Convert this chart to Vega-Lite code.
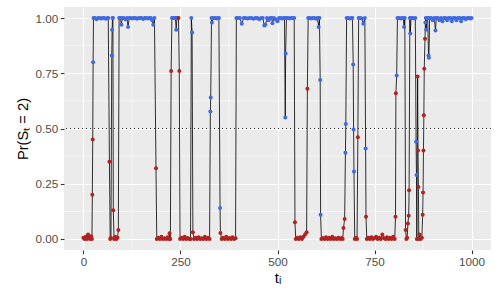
{
  "$schema": "https://vega.github.io/schema/vega-lite/v6.json",
  "width": 427,
  "height": 243,
  "autosize": "none",
  "padding": {"left": 64, "top": 7, "right": 7, "bottom": 49},
  "background": "white",
  "config": {
    "view": {"stroke": null, "fill": "#EBEBEB"},
    "axis": {
      "domain": false,
      "gridColor": "white",
      "gridWidth": 1.1,
      "tickColor": "#333333",
      "tickSize": 3.7,
      "tickWidth": 1.1,
      "labelColor": "#4D4D4D",
      "labelFont": "Liberation Sans",
      "labelFontSize": 11.7,
      "labelPadding": 2.5,
      "titleFont": "Liberation Sans",
      "titleFontSize": 14.7,
      "titleFontWeight": "normal",
      "titleColor": "black"
    }
  },
  "datasets": {
    "gx": [{"v": 125}, {"v": 375}, {"v": 625}, {"v": 875}],
    "gy": [{"v": 0.125}, {"v": 0.375}, {"v": 0.625}, {"v": 0.875}],
    "h": [{"v": 0.5}]
  },
  "data": {"values": [
    {"t":0,"p":0.005,"s":"1"},{"t":3,"p":0,"s":"1"},{"t":6,"p":0.01,"s":"1"},{"t":9,"p":0,"s":"1"},{"t":12,"p":0.02,"s":"1"},{"t":14,"p":0.008,"s":"1"},{"t":17,"p":0,"s":"1"},{"t":20,"p":0.012,"s":"1"},{"t":22,"p":0,"s":"1"},
    {"t":23,"p":0.2,"s":"1"},{"t":24,"p":0.45,"s":"1"},{"t":25,"p":0.8,"s":"2"},{"t":26,"p":1,"s":"2"},
    {"t":30,"p":1,"s":"2"},{"t":34,"p":0.995,"s":"2"},{"t":38,"p":1,"s":"2"},{"t":42,"p":1,"s":"2"},{"t":46,"p":0.998,"s":"2"},{"t":50,"p":1,"s":"2"},{"t":54,"p":1,"s":"2"},{"t":58,"p":0.997,"s":"2"},{"t":62,"p":1,"s":"2"},{"t":64,"p":1,"s":"2"},
    {"t":67,"p":0.35,"s":"1"},{"t":69,"p":0,"s":"1"},{"t":71,"p":0.005,"s":"1"},{"t":73,"p":0.83,"s":"2"},{"t":74,"p":0.947,"s":"2"},{"t":75,"p":1,"s":"2"},{"t":76,"p":1,"s":"2"},{"t":77,"p":0.13,"s":"1"},{"t":79,"p":0,"s":"1"},{"t":82,"p":0.01,"s":"1"},{"t":85,"p":0,"s":"1"},{"t":88,"p":0.005,"s":"1"},{"t":90,"p":0.04,"s":"1"},
    {"t":92,"p":1,"s":"2"},{"t":95,"p":1,"s":"2"},{"t":98,"p":0.97,"s":"2"},{"t":100,"p":1,"s":"2"},{"t":104,"p":1,"s":"2"},{"t":108,"p":0.995,"s":"2"},{"t":112,"p":1,"s":"2"},{"t":115,"p":0.96,"s":"2"},{"t":118,"p":1,"s":"2"},{"t":122,"p":1,"s":"2"},{"t":126,"p":0.998,"s":"2"},{"t":130,"p":1,"s":"2"},{"t":134,"p":1,"s":"2"},{"t":138,"p":0.997,"s":"2"},{"t":142,"p":1,"s":"2"},{"t":146,"p":1,"s":"2"},{"t":150,"p":1,"s":"2"},{"t":154,"p":0.996,"s":"2"},{"t":158,"p":1,"s":"2"},{"t":162,"p":1,"s":"2"},{"t":166,"p":0.998,"s":"2"},{"t":170,"p":1,"s":"2"},{"t":174,"p":1,"s":"2"},{"t":177,"p":0.99,"s":"2"},{"t":180,"p":0.97,"s":"2"},{"t":183,"p":1,"s":"2"},
    {"t":187,"p":0.32,"s":"1"},{"t":189,"p":0,"s":"1"},{"t":193,"p":0.005,"s":"1"},{"t":197,"p":0,"s":"1"},{"t":201,"p":0.01,"s":"1"},{"t":205,"p":0,"s":"1"},{"t":209,"p":0.003,"s":"1"},{"t":213,"p":0,"s":"1"},{"t":217,"p":0.008,"s":"1"},{"t":220,"p":0,"s":"1"},{"t":222,"p":0.026,"s":"1"},{"t":224,"p":0,"s":"1"},
    {"t":226,"p":0.76,"s":"1"},{"t":228,"p":1,"s":"2"},{"t":231,"p":1,"s":"2"},{"t":234,"p":1,"s":"2"},{"t":237,"p":1,"s":"2"},{"t":239,"p":0.947,"s":"2"},{"t":241,"p":1,"s":"2"},{"t":243,"p":1,"s":"2"},
    {"t":245,"p":1,"s":"1"},{"t":247,"p":0.76,"s":"1"},{"t":249,"p":0,"s":"1"},{"t":253,"p":0.006,"s":"1"},{"t":257,"p":0,"s":"1"},{"t":261,"p":0.01,"s":"1"},{"t":265,"p":0,"s":"1"},{"t":269,"p":0.004,"s":"1"},{"t":273,"p":0,"s":"1"},{"t":276,"p":0,"s":"1"},
    {"t":278,"p":1,"s":"2"},{"t":280,"p":0.935,"s":"2"},{"t":282,"p":0.03,"s":"1"},{"t":285,"p":0,"s":"1"},{"t":289,"p":0.005,"s":"1"},{"t":293,"p":0,"s":"1"},{"t":297,"p":0.008,"s":"1"},{"t":301,"p":0,"s":"1"},{"t":305,"p":0.003,"s":"1"},{"t":309,"p":0,"s":"1"},{"t":313,"p":0.01,"s":"1"},{"t":317,"p":0,"s":"1"},{"t":321,"p":0.006,"s":"1"},{"t":325,"p":0,"s":"1"},
    {"t":327,"p":0.577,"s":"2"},{"t":328,"p":0.64,"s":"2"},{"t":330,"p":1,"s":"2"},{"t":331,"p":0.98,"s":"2"},{"t":335,"p":1,"s":"2"},{"t":339,"p":1,"s":"2"},{"t":343,"p":0.998,"s":"2"},{"t":347,"p":1,"s":"2"},{"t":349,"p":1,"s":"2"},
    {"t":352,"p":0.14,"s":"2"},{"t":353,"p":0.027,"s":"1"},{"t":356,"p":0,"s":"1"},{"t":360,"p":0.005,"s":"1"},{"t":364,"p":0,"s":"1"},{"t":368,"p":0.01,"s":"1"},{"t":372,"p":0,"s":"1"},{"t":376,"p":0.004,"s":"1"},{"t":380,"p":0,"s":"1"},{"t":384,"p":0.008,"s":"1"},{"t":388,"p":0,"s":"1"},{"t":392,"p":0.003,"s":"1"},
    {"t":394,"p":1,"s":"2"},{"t":398,"p":1,"s":"2"},{"t":403,"p":1,"s":"2"},{"t":408,"p":0.974,"s":"2"},{"t":413,"p":1,"s":"2"},{"t":418,"p":1,"s":"2"},{"t":423,"p":0.998,"s":"2"},{"t":428,"p":1,"s":"2"},{"t":433,"p":1,"s":"2"},{"t":438,"p":0.997,"s":"2"},{"t":443,"p":1,"s":"2"},{"t":448,"p":1,"s":"2"},{"t":453,"p":0.995,"s":"2"},{"t":458,"p":1,"s":"2"},{"t":462,"p":1,"s":"2"},{"t":466,"p":0.966,"s":"2"},{"t":469,"p":0.97,"s":"2"},{"t":473,"p":1,"s":"2"},{"t":477,"p":0.99,"s":"2"},{"t":481,"p":1,"s":"2"},{"t":485,"p":1,"s":"2"},{"t":487,"p":0.977,"s":"2"},{"t":491,"p":1,"s":"2"},{"t":495,"p":0.995,"s":"2"},{"t":500,"p":0.985,"s":"2"},{"t":504,"p":1,"s":"2"},{"t":508,"p":1,"s":"2"},{"t":512,"p":0.998,"s":"2"},{"t":516,"p":1,"s":"2"},{"t":518,"p":1,"s":"2"},
    {"t":520,"p":0.55,"s":"2"},{"t":521,"p":0.84,"s":"2"},{"t":523,"p":1,"s":"2"},{"t":527,"p":1,"s":"2"},{"t":531,"p":0.998,"s":"2"},{"t":535,"p":1,"s":"2"},{"t":539,"p":1,"s":"2"},{"t":543,"p":1,"s":"2"},
    {"t":545,"p":0.076,"s":"1"},{"t":547,"p":0,"s":"1"},{"t":551,"p":0.005,"s":"1"},{"t":555,"p":0,"s":"1"},{"t":559,"p":0.008,"s":"1"},{"t":563,"p":0,"s":"1"},{"t":567,"p":0.01,"s":"1"},{"t":571,"p":0.02,"s":"1"},{"t":575,"p":0.03,"s":"1"},
    {"t":577,"p":0.68,"s":"1"},{"t":579,"p":1,"s":"2"},{"t":583,"p":1,"s":"2"},{"t":587,"p":0.998,"s":"2"},{"t":591,"p":1,"s":"2"},{"t":595,"p":1,"s":"2"},{"t":599,"p":0.997,"s":"2"},{"t":603,"p":1,"s":"2"},{"t":606,"p":0.96,"s":"2"},{"t":608,"p":1,"s":"2"},
    {"t":610,"p":0.72,"s":"2"},{"t":611,"p":0.11,"s":"2"},{"t":613,"p":0,"s":"1"},{"t":617,"p":0.004,"s":"1"},{"t":621,"p":0,"s":"1"},{"t":625,"p":0.008,"s":"1"},{"t":629,"p":0,"s":"1"},{"t":633,"p":0.005,"s":"1"},{"t":637,"p":0,"s":"1"},{"t":641,"p":0.01,"s":"1"},{"t":645,"p":0,"s":"1"},{"t":649,"p":0.003,"s":"1"},{"t":653,"p":0,"s":"1"},{"t":657,"p":0.006,"s":"1"},{"t":661,"p":0,"s":"1"},{"t":665,"p":0.004,"s":"1"},{"t":668,"p":0,"s":"1"},{"t":670,"p":0.05,"s":"1"},{"t":673,"p":0.09,"s":"1"},
    {"t":675,"p":0.39,"s":"2"},{"t":676,"p":0.52,"s":"2"},{"t":678,"p":1,"s":"2"},{"t":682,"p":1,"s":"2"},{"t":686,"p":0.998,"s":"2"},{"t":690,"p":1,"s":"2"},{"t":693,"p":1,"s":"2"},
    {"t":695,"p":0.79,"s":"2"},{"t":696,"p":0.495,"s":"2"},{"t":697,"p":0.305,"s":"2"},{"t":699,"p":0,"s":"1"},{"t":702,"p":0.005,"s":"1"},{"t":705,"p":0,"s":"1"},
    {"t":707,"p":0.46,"s":"1"},{"t":709,"p":1,"s":"2"},{"t":713,"p":1,"s":"2"},{"t":717,"p":0.998,"s":"2"},{"t":721,"p":0.974,"s":"2"},{"t":725,"p":1,"s":"2"},
    {"t":727,"p":0.41,"s":"2"},{"t":728,"p":0.1,"s":"1"},{"t":730,"p":0,"s":"1"},{"t":734,"p":0.005,"s":"1"},{"t":738,"p":0,"s":"1"},{"t":742,"p":0.008,"s":"1"},{"t":746,"p":0,"s":"1"},{"t":750,"p":0.004,"s":"1"},{"t":754,"p":0.01,"s":"1"},{"t":758,"p":0,"s":"1"},{"t":762,"p":0.006,"s":"1"},{"t":766,"p":0,"s":"1"},{"t":770,"p":0.02,"s":"1"},{"t":774,"p":0.004,"s":"1"},{"t":778,"p":0,"s":"1"},{"t":782,"p":0.008,"s":"1"},{"t":786,"p":0,"s":"1"},{"t":790,"p":0.005,"s":"1"},{"t":794,"p":0,"s":"1"},{"t":798,"p":0.01,"s":"1"},{"t":802,"p":0,"s":"1"},
    {"t":804,"p":0.1,"s":"1"},{"t":805,"p":0.66,"s":"1"},{"t":807,"p":0.74,"s":"2"},{"t":809,"p":1,"s":"2"},{"t":813,"p":1,"s":"2"},{"t":817,"p":0.998,"s":"2"},{"t":821,"p":1,"s":"2"},{"t":824,"p":1,"s":"2"},{"t":826,"p":0.96,"s":"2"},{"t":828,"p":1,"s":"2"},
    {"t":830,"p":0.04,"s":"1"},{"t":832,"p":0,"s":"1"},{"t":834,"p":0.005,"s":"1"},{"t":836,"p":0.07,"s":"1"},{"t":838,"p":0.105,"s":"1"},{"t":839,"p":0.22,"s":"1"},
    {"t":841,"p":1,"s":"2"},{"t":842,"p":0.93,"s":"2"},{"t":844,"p":1,"s":"2"},{"t":848,"p":1,"s":"2"},{"t":852,"p":0.998,"s":"2"},{"t":855,"p":1,"s":"2"},
    {"t":857,"p":0.44,"s":"2"},{"t":858,"p":0.29,"s":"2"},{"t":859,"p":0,"s":"1"},{"t":861,"p":0.735,"s":"1"},{"t":862,"p":0.4,"s":"1"},{"t":863,"p":0.235,"s":"1"},{"t":864,"p":0,"s":"1"},{"t":866,"p":0.02,"s":"1"},{"t":869,"p":0,"s":"1"},{"t":872,"p":0.005,"s":"1"},
    {"t":874,"p":0.11,"s":"1"},{"t":875,"p":0.21,"s":"1"},{"t":876,"p":0.4,"s":"1"},{"t":877,"p":0.56,"s":"1"},{"t":878,"p":0.77,"s":"1"},{"t":880,"p":0.906,"s":"1"},
    {"t":881,"p":0.98,"s":"2"},{"t":882,"p":1,"s":"2"},{"t":883,"p":0.947,"s":"2"},{"t":885,"p":1,"s":"2"},{"t":887,"p":1,"s":"2"},{"t":889,"p":0.83,"s":"2"},{"t":890,"p":0.82,"s":"2"},{"t":892,"p":1,"s":"2"},{"t":896,"p":1,"s":"2"},{"t":900,"p":0.99,"s":"2"},{"t":904,"p":1,"s":"2"},{"t":907,"p":0.944,"s":"2"},{"t":909,"p":1,"s":"2"},{"t":913,"p":1,"s":"2"},{"t":917,"p":0.99,"s":"2"},{"t":921,"p":1,"s":"2"},{"t":925,"p":0.985,"s":"2"},{"t":929,"p":1,"s":"2"},{"t":933,"p":1,"s":"2"},{"t":937,"p":0.99,"s":"2"},{"t":941,"p":1,"s":"2"},{"t":945,"p":1,"s":"2"},{"t":949,"p":0.985,"s":"2"},{"t":953,"p":1,"s":"2"},{"t":957,"p":1,"s":"2"},{"t":961,"p":0.99,"s":"2"},{"t":965,"p":1,"s":"2"},{"t":969,"p":1,"s":"2"},{"t":973,"p":0.985,"s":"2"},{"t":977,"p":1,"s":"2"},{"t":981,"p":1,"s":"2"},{"t":985,"p":0.995,"s":"2"},{"t":989,"p":1,"s":"2"},{"t":993,"p":1,"s":"2"},{"t":997,"p":0.998,"s":"2"},{"t":1000,"p":1,"s":"2"}
  ]},
  "layer": [
    {
      "data": {"name": "gx"},
      "mark": {"type": "rule", "color": "white", "strokeWidth": 0.55},
      "encoding": {"x": {"field": "v", "type": "quantitative"}}
    },
    {
      "data": {"name": "gy"},
      "mark": {"type": "rule", "color": "white", "strokeWidth": 0.55},
      "encoding": {"y": {"field": "v", "type": "quantitative"}}
    },
    {
      "mark": {"type": "line", "color": "black", "strokeWidth": 0.8},
      "encoding": {
        "x": {"field": "t", "type": "quantitative",
              "scale": {"domain": [-50, 1050], "nice": false, "zero": false},
              "axis": {"values": [0, 250, 500, 750, 1000], "format": "d", "title": "tᵢ", "titlePadding": 3}},
        "y": {"field": "p", "type": "quantitative",
              "scale": {"domain": [-0.05, 1.05], "nice": false, "zero": false},
              "axis": {"values": [0, 0.25, 0.5, 0.75, 1], "format": ".2f", "title": "Pr(Sₜ = 2)", "titlePadding": 5}}
      }
    },
    {
      "data": {"name": "h"},
      "mark": {"type": "rule", "color": "#333333", "strokeWidth": 1, "strokeDash": [1, 3]},
      "encoding": {"y": {"field": "v", "type": "quantitative"}}
    },
    {
      "mark": {"type": "circle", "size": 16, "opacity": 1},
      "encoding": {
        "x": {"field": "t", "type": "quantitative"},
        "y": {"field": "p", "type": "quantitative"},
        "color": {"field": "s", "type": "nominal",
                  "scale": {"domain": ["1", "2"], "range": ["#B22222", "#4169E1"]},
                  "legend": null}
      }
    }
  ]
}
